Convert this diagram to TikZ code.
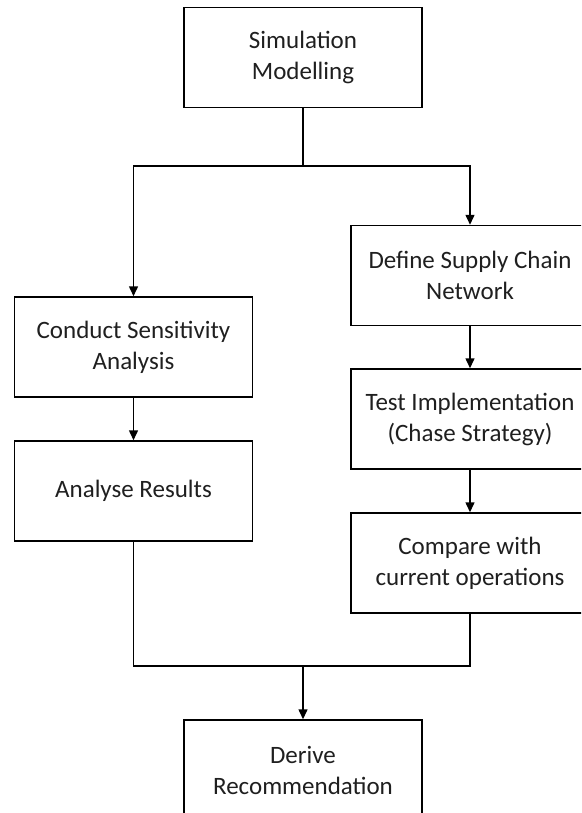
\documentclass[tikz,border=0pt]{standalone}
\usepackage{fontspec}
\setmainfont{Carlito}
\usetikzlibrary{arrows.meta}
\tikzset{
  box/.style={draw, line width=1.5pt, minimum width=238pt, minimum height=100pt, align=center, inner sep=0pt, font=\fontsize{25}{31}\selectfont, text=black!88},
  conn/.style={line width=1.5pt},
  arr/.style={conn, -{Triangle[width=9pt,length=10pt]}}
}
\begin{document}
\begin{tikzpicture}[x=1pt,y=1pt]
\useasboundingbox (0,0) rectangle (581,-813);
\clip (0,0) rectangle (581,-813);
\node[box] (sim) at (303,-57.5) {Simulation\\Modelling};
\node[box] (csa) at (133.5,-347) {Conduct Sensitivity\\Analysis};
\node[box] (ar)  at (133.5,-491) {Analyse Results};
\node[box] (def) at (470,-275.5) {Define Supply Chain\\Network};
\node[box] (ti)  at (470,-419) {Test Implementation\\(Chase Strategy)};
\node[box] (cmp) at (470,-563) {Compare with\\current operations};
\node[box] (der) at (303,-770) {Derive\\Recommendation};
\coordinate (j1) at (303,-166);
\coordinate (j2) at (303,-666);
\draw[conn] (sim.south) -- (j1);
\draw[arr] (j1) -| (csa.north);
\draw[arr] (j1) -| (def.north);
\draw[arr] (csa.south) -- (ar.north);
\draw[arr] (def.south) -- (ti.north);
\draw[arr] (ti.south) -- (cmp.north);
\draw[conn] (ar.south) |- (j2);
\draw[conn] (cmp.south) |- (j2);
\draw[arr] (j2) -- (der.north);
\end{tikzpicture}
\end{document}
